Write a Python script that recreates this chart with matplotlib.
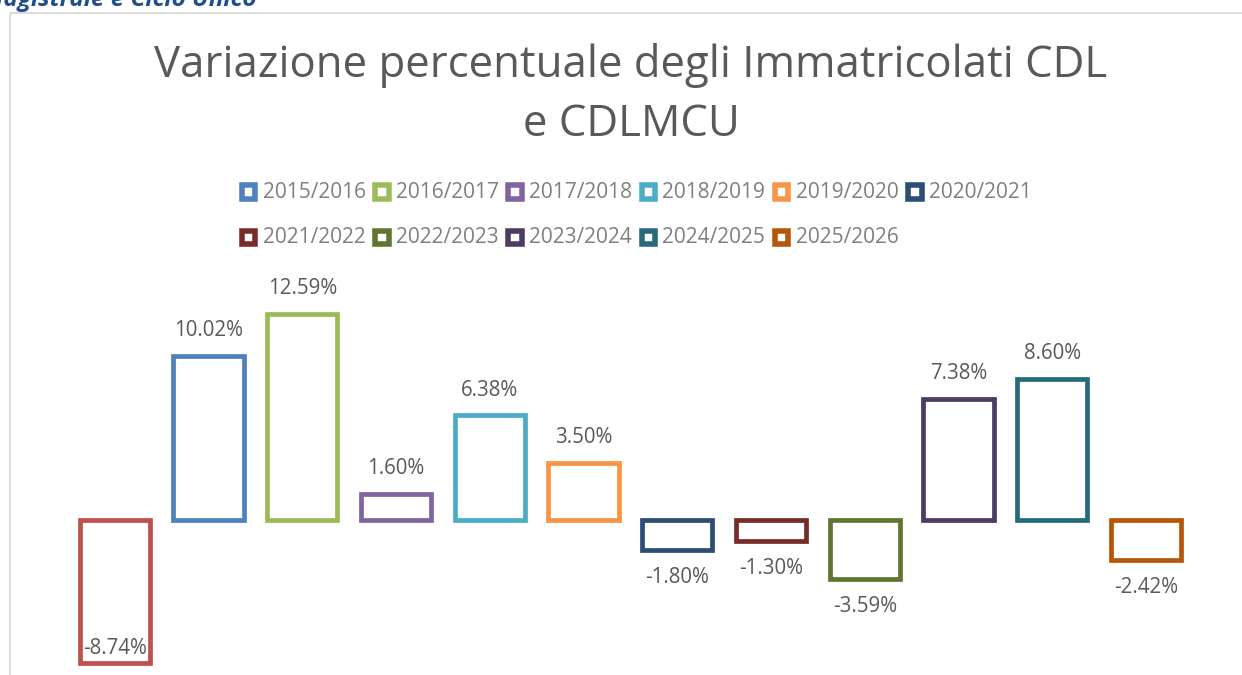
import matplotlib.pyplot as plt
from matplotlib.patches import Rectangle

# dati
anni = ["2014/2015", "2015/2016", "2016/2017", "2017/2018", "2018/2019", "2019/2020",
        "2020/2021", "2021/2022", "2022/2023", "2023/2024", "2024/2025", "2025/2026"]
variazioni = [-8.74, 10.02, 12.59, 1.60, 6.38, 3.50, -1.80, -1.30, -3.59, 7.38, 8.60, -2.42]
colori = ["#C0504D", "#4F81BD", "#9BBB59", "#8064A2", "#4BACC6", "#F79646",
          "#2C4D75", "#772C2A", "#5F7530", "#4D3B62", "#276A7C", "#B65708"]
# il primo anno non compare in legenda
voci_legenda = anni[1:]

titolo = ["Variazione percentuale degli Immatricolati CDL", "e CDLMCU"]
intestazione = "Magistrale e Ciclo Unico"

W, H = 1242, 675
plt.rcParams['font.family'] = ['Open Sans', 'DejaVu Sans']
grigio = "#595959"

fig = plt.figure(figsize=(W / 100, H / 100), dpi=100)

# area delle barre
ax = fig.add_axes([0, 0, 1, 1])
x = list(range(len(variazioni)))
ax.bar(x, variazioni, width=0.75, color="white", edgecolor=colori, linewidth=3.4)
ax.set_xlim(-1.2245, 12.0235)
ax.set_ylim(-9.45, 31.71)
ax.axis("off")

ymin = ax.get_ylim()[0]
for i, v in enumerate(variazioni):
    if v >= 0:
        dy = 18
    elif v - 2.0 < ymin:
        dy = 11  # non c'e' spazio sotto: etichetta dentro la barra
    else:
        dy = -19.8
    ax.annotate(f"{v:.2f}%", (i, v), xytext=(0, dy), textcoords="offset points",
                ha="center", va="center", fontsize=14.8, color=grigio)

# strato in coordinate pixel per titolo, legenda e cornice
ov = fig.add_axes([0, 0, 1, 1])
ov.set_xlim(0, W)
ov.set_ylim(H, 0)
ov.axis("off")

ov.plot([9.5, 9.5], [H, 12.5], color="#D9D9D9", lw=1.3, solid_capstyle="butt")
ov.plot([9.5, W], [12.5, 12.5], color="#D9D9D9", lw=1.3, solid_capstyle="butt")

ov.text(257, 6, intestazione, ha="right", va="baseline", fontsize=17.5,
        fontweight="bold", fontstyle="italic", color="#1F4E8C")

ov.text(631, 77, titolo[0], ha="center", va="baseline", fontsize=31.5, color=grigio)
ov.text(631, 136, titolo[1], ha="center", va="baseline", fontsize=31.5, color=grigio)

for k, nome in enumerate(voci_legenda):
    riga, col = divmod(k, 6)
    cx = 248.5 + col * 133.3
    cy = 192 + riga * 45.5
    ov.add_patch(Rectangle((cx - 6.7, cy - 6.7), 13.4, 13.4, facecolor="white",
                           edgecolor=colori[k + 1], lw=4.0))
    ov.text(cx + 14, cy, nome, ha="left", va="center", fontsize=15, color="#7F7F7F")

fig.savefig("out.png", dpi=100)
